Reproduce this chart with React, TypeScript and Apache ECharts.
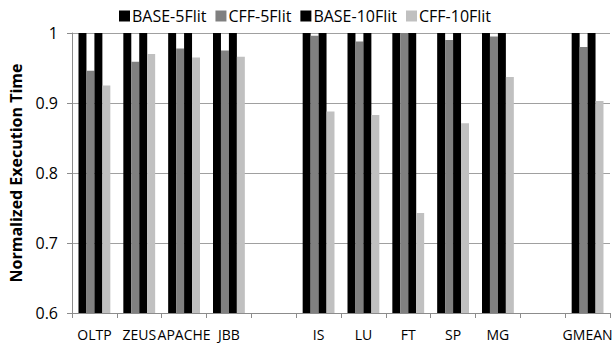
import React, { useEffect, useRef } from "react";
import * as echarts from "echarts";

const categories = ["OLTP", "ZEUS", "APACHE", "JBB", "", "IS", "LU", "FT", "SP", "MG", "", "GMEAN"];
const base5 = [1, 1, 1, 1, null, 1, 1, 1, 1, 1, null, 1];
const cff5 = [0.946, 0.959, 0.978, 0.975, null, 0.996, 0.988, 1.0, 0.99, 0.995, null, 0.98];
const base10 = [1, 1, 1, 1, null, 1, 1, 1, 1, 1, null, 1];
const cff10 = [0.925, 0.97, 0.965, 0.966, null, 0.888, 0.883, 0.743, 0.871, 0.937, null, 0.903];
const seriesNames = ["BASE-5Flit", "CFF-5Flit", "BASE-10Flit", "CFF-10Flit"];
const seriesColors = ["#000000", "#808080", "#000000", "#c0c0c0"];
const yTicks = [0.6, 0.7, 0.8, 0.9, 1];

export default function App() {
  const ref = useRef<HTMLDivElement>(null);
  useEffect(() => {
    if (!ref.current) return;
    const chart = echarts.init(ref.current, undefined, { renderer: "svg" });
    const font = "Open Sans, Noto Sans, sans-serif";
    const data = [base5, cff5, base10, cff10];
    chart.setOption({
      animation: false,
      textStyle: { fontFamily: font },
      legend: {
        top: 3,
        left: 114,
        itemWidth: 11,
        itemHeight: 11,
        itemGap: 9,
        icon: "rect",
        textStyle: { fontSize: 16, color: "#000", fontFamily: font, padding: [0, 0, 0, -3] },
        data: seriesNames,
      },
      grid: { left: 63, right: 6, top: 33, bottom: 30, containLabel: false },
      xAxis: {
        type: "category",
        data: categories,
        boundaryGap: true,
        axisLine: { lineStyle: { color: "#8c8c8c" } },
        axisTick: { show: true, alignWithLabel: false, interval: 0, length: 5, lineStyle: { color: "#8c8c8c" } },
        axisLabel: { interval: 0, fontSize: 14, color: "#000", margin: 14, fontFamily: font },
      },
      yAxis: {
        type: "value",
        min: 0.6,
        max: 1,
        interval: 0.1,
        name: "Normalized Execution Time",
        nameLocation: "middle",
        nameGap: 48,
        nameTextStyle: { fontSize: 16, fontWeight: "bold", color: "#000", fontFamily: font },
        axisLine: { show: true, lineStyle: { color: "#8c8c8c" } },
        axisTick: { show: true, inside: false, length: 5, lineStyle: { color: "#8c8c8c" } },
        axisLabel: {
          fontSize: 16,
          color: "#000",
          margin: 14,
          fontFamily: font,
          formatter: (v: number) => {
            const t = yTicks.find((x) => Math.abs(x - v) < 1e-6);
            return t === undefined ? "" : String(t);
          },
        },
        splitLine: { show: true, lineStyle: { color: "#a0a0a0", width: 1.2 } },
      },
      series: seriesNames.map((name, i) => ({
        name,
        type: "bar",
        data: data[i],
        barGap: "0%",
        barCategoryGap: "29%",
        itemStyle: { color: seriesColors[i] },
      })),
    });
    return () => chart.dispose();
  }, []);
  return (
    <div
      ref={ref}
      style={{ position: "absolute", left: 0, top: 0, width: 616, height: 343, background: "#fff" }}
    />
  );
}
